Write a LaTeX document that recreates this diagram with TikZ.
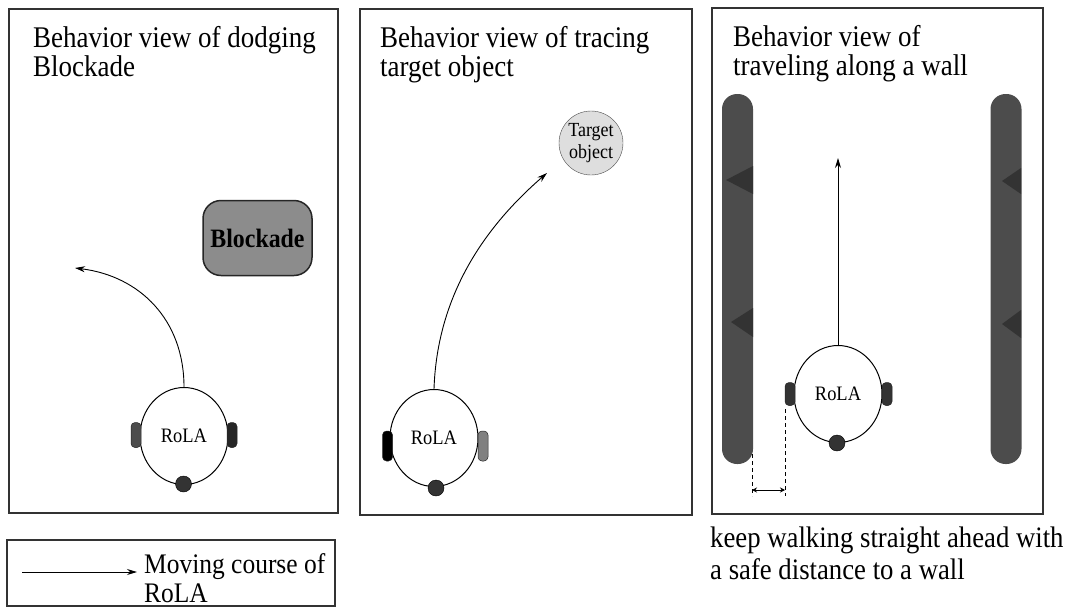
\documentclass[tikz,border=0pt]{standalone}
\usepackage{fontspec}
\setmainfont{Liberation Serif}[FakeStretch=0.9]
\usetikzlibrary{arrows.meta,shapes.geometric}
\begin{document}
\begin{tikzpicture}[x=1pt,y=-1pt]
\tikzset{
  panel/.style={draw=black!80, line width=1.3pt},
  title/.style={anchor=base west, inner sep=0pt, font=\fontsize{30}{33}\selectfont},
  robot/.style={draw=black, ellipse, minimum width=88pt, minimum height=97pt, inner sep=0pt, line width=1pt, font=\fontsize{20.5}{22}\selectfont},
  wheel/.style={draw=black!85, rounded corners=4pt, minimum width=10pt, minimum height=25pt, inner sep=0pt, line width=0.5pt},
  caster/.style={circle, fill=black!80, draw=black, minimum size=16pt, inner sep=0pt},
  course/.style={line width=0.9pt, -{Stealth[length=10pt, width=6pt]}},
  wallbar/.style={fill=black!70, rounded corners=15pt, minimum width=31pt, minimum height=370pt, inner sep=0pt},
  wedge/.style={fill=black!80},
  gap/.style={dashed, dash pattern=on 4pt off 3pt, line width=1pt},
  dim/.style={line width=0.9pt, {Stealth[length=5pt,width=5pt]}-{Stealth[length=5pt,width=5pt]}}
}
\useasboundingbox (0,0) rectangle (1071,608);
% panels
\draw[panel] (9,9) rectangle (338,513);
\draw[panel] (360,9) rectangle (692,515);
\draw[panel] (712,8) rectangle (1043,514);
\draw[panel] (7,540) rectangle (335,606);
% titles
\node[title] (t1a) at (33,47) {Behavior view of dodging};
\node[title] (t1b) at (33,76) {Blockade};
\node[title] (t2a) at (380,47) {Behavior view of tracing};
\node[title] (t2b) at (380,76) {target object};
\node[title] (t3a) at (733,46) {Behavior view of};
\node[title] (t3b) at (733,75) {traveling along a wall};
\node[title, font=\fontsize{29.7}{33}\selectfont] (cap1) at (710,547) {keep walking straight ahead with};
\node[title, font=\fontsize{29.7}{33}\selectfont] (cap2) at (710,579) {a safe distance to a wall};
\node[title, font=\fontsize{28.3}{31}\selectfont] (leg1) at (144,573) {Moving course of};
\node[title, font=\fontsize{28.3}{31}\selectfont] (leg2) at (144,602) {RoLA};
% panel 1
\node[draw=black!85, line width=1.5pt, fill=black!45, rounded corners=18pt, minimum width=109pt, minimum height=75pt, inner sep=0pt, font=\bfseries\fontsize{26.5}{28}\selectfont] (blk) at (257.5,238) {Blockade};
\node[robot] (r1) at (184,436) {RoLA};
\node[wheel, fill=black!70] (r1l) at (136,435) {};
\node[wheel, fill=black!85] (r1r) at (232,435) {};
\node[caster] (r1c) at (183.5,484) {};
\coordinate (a1) at (75,268);
\draw[course] (r1.north) .. controls (184,320) and (140,276) .. (a1);
% panel 2
\node[circle, draw=black!70, fill=black!13, minimum size=64pt, inner sep=0pt, align=center, font=\fontsize{20}{22}\selectfont] (tgt) at (591,143) {Target\\object};
\node[robot] (r2) at (434,438) {RoLA};
\node[wheel, fill=black, minimum height=30pt] (r2l) at (387.5,446) {};
\node[wheel, fill=black!50, minimum height=30pt] (r2r) at (483,446) {};
\node[caster] (r2c) at (436,488) {};
\coordinate (a2) at (547,173);
\draw[course] (r2.north) .. controls (437,300) and (480,231) .. (a2);
% panel 3
\node[wallbar] (wl) at (737.5,279) {};
\node[wallbar] (wr) at (1006,279) {};
\fill[wedge] (753,166) -- (726,180) -- (753,194) -- cycle;
\fill[wedge] (753,308) -- (731,322) -- (753,337) -- cycle;
\fill[wedge] (1021,168) -- (1002,181) -- (1021,194) -- cycle;
\fill[wedge] (1021,310) -- (1002,324) -- (1021,338) -- cycle;
\node[robot] (r3) at (838,394) {RoLA};
\node[wheel, fill=black!80, minimum height=23pt] (r3l) at (790,394) {};
\node[wheel, fill=black!80, minimum height=23pt] (r3r) at (887,394) {};
\node[caster] (r3c) at (837,443) {};
\coordinate (a3) at (838,158);
\draw[course] (r3.north) -- (a3);
\coordinate (g1a) at (752,454);
\coordinate (g1b) at (752,496);
\coordinate (g2a) at (785,409);
\coordinate (g2b) at (785,496);
\draw[gap] (g1a) -- (g1b);
\draw[gap] (g2a) -- (g2b);
\coordinate (m1) at (752,490);
\coordinate (m2) at (785,490);
\draw[dim] (m1) -- (m2);
% legend
\coordinate (lg0) at (22,572);
\coordinate (lg1) at (137,572);
\draw[course] (lg0) -- (lg1);
\end{tikzpicture}
\end{document}
